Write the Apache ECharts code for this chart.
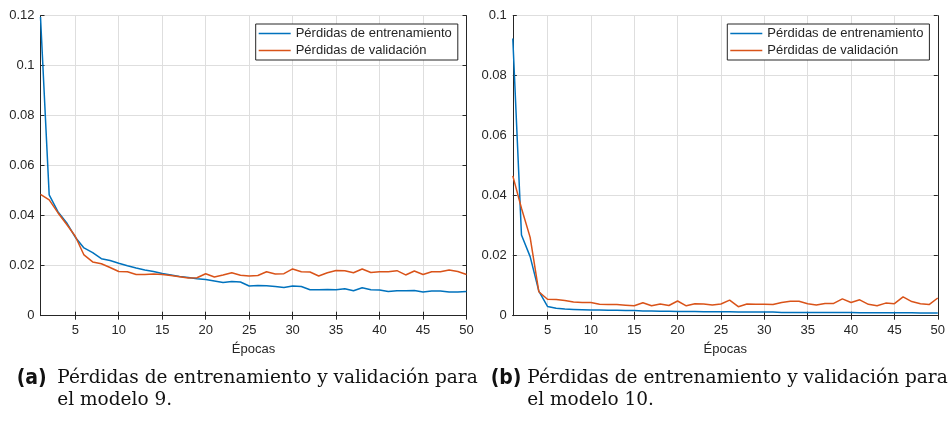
<!DOCTYPE html>
<html>
<head>
<meta charset="utf-8">
<script src="https://cdn.jsdelivr.net/npm/echarts@6/dist/echarts.min.js"></script>
<style>
html,body{margin:0;padding:0;background:#fff;}
#chart{width:948px;height:422px;}
</style>
</head>
<body>
<div id="chart"></div>
<script>
const epochs = [1,2,3,4,5,6,7,8,9,10,11,12,13,14,15,16,17,18,19,20,21,22,23,24,25,26,27,28,29,30,31,32,33,34,35,36,37,38,39,40,41,42,43,44,45,46,47,48,49,50];
const seriesNames = ['Pérdidas de entrenamiento', 'Pérdidas de validación'];
const xTickStep = 5;
const yTicksA = {min: 0, max: 0.12, step: 0.02};
const yTicksB = {min: 0, max: 0.1, step: 0.02};
const xAxisTitle = 'Épocas';

const trainA = [0.1195,0.0483,0.0416,0.0372,0.0314,0.0271,0.0252,0.0228,0.0221,0.0210,0.0200,0.0191,0.0183,0.0177,0.0169,0.0163,0.0157,0.0153,0.0148,0.0145,0.0139,0.0133,0.0137,0.0135,0.0119,0.0121,0.0120,0.0117,0.0113,0.0119,0.0117,0.0104,0.0104,0.0105,0.0104,0.0108,0.0100,0.0112,0.0104,0.0103,0.0097,0.0100,0.0100,0.0101,0.0095,0.0099,0.0099,0.0095,0.0095,0.0097];
const valA = [0.0485,0.0463,0.0412,0.0366,0.0318,0.0243,0.0215,0.0208,0.0193,0.0177,0.0176,0.0165,0.0165,0.0167,0.0165,0.0161,0.0156,0.0151,0.0152,0.0168,0.0155,0.0163,0.0172,0.0162,0.0159,0.0161,0.0176,0.0167,0.0168,0.0187,0.0176,0.0175,0.0159,0.0172,0.0181,0.0180,0.0172,0.0187,0.0173,0.0176,0.0176,0.0180,0.0163,0.0179,0.0165,0.0176,0.0176,0.0183,0.0177,0.0165];
const trainB = [0.0924,0.0269,0.0197,0.0082,0.0031,0.0025,0.0022,0.0021,0.0020,0.0019,0.0019,0.0018,0.0018,0.0017,0.0017,0.0016,0.0016,0.0015,0.0015,0.0014,0.0014,0.0014,0.0013,0.0013,0.0013,0.0013,0.0012,0.0012,0.0012,0.0012,0.0012,0.0011,0.0011,0.0011,0.0011,0.0011,0.0011,0.0011,0.0011,0.0011,0.0010,0.0010,0.0010,0.0010,0.0010,0.0010,0.0010,0.0009,0.0009,0.0009];
const valB = [0.0466,0.0358,0.0261,0.0080,0.0055,0.0054,0.0051,0.0046,0.0044,0.0044,0.0038,0.0037,0.0037,0.0035,0.0033,0.0043,0.0033,0.0039,0.0034,0.0049,0.0033,0.0040,0.0039,0.0036,0.0039,0.0052,0.0030,0.0039,0.0038,0.0038,0.0037,0.0044,0.0048,0.0048,0.0040,0.0036,0.0041,0.0041,0.0056,0.0044,0.0053,0.0038,0.0033,0.0042,0.0040,0.0063,0.0047,0.0040,0.0037,0.0059];

const captionA = ['(a)', 'Pérdidas de entrenamiento y validación para', 'el modelo 9.'];
const captionB = ['(b)', 'Pérdidas de entrenamiento y validación para', 'el modelo 10.'];

const AX = '#262626';
const GRIDC = '#dedede';
const SANS = '"Liberation Sans", Arial, Helvetica, sans-serif';
const BLUE = '#0072BD';
const ORANGE = '#D95319';

const chart = echarts.init(document.getElementById('chart'), null, {renderer: 'canvas'});

const every5 = (i, v) => Number(v) % xTickStep === 0;

function xAxes(gi) {
  return [
    {
      type: 'category', gridIndex: gi, data: epochs, boundaryGap: false, position: 'bottom',
      axisLine: {show: true, lineStyle: {color: AX, width: 1}},
      axisTick: {show: true, inside: true, length: 4, interval: every5, lineStyle: {color: AX}},
      axisLabel: {show: true, interval: every5, margin: 8, color: AX, fontSize: 13, fontFamily: SANS},
      splitLine: {show: true, interval: every5, lineStyle: {color: GRIDC, width: 1}},
      name: xAxisTitle, nameLocation: 'middle', nameGap: 27,
      nameTextStyle: {color: AX, fontSize: 13, fontFamily: SANS}
    },
    {
      type: 'category', gridIndex: gi, data: epochs, boundaryGap: false, position: 'top',
      axisLine: {show: true, lineStyle: {color: AX, width: 1}},
      axisTick: {show: true, inside: true, length: 4, interval: every5, lineStyle: {color: AX}},
      axisLabel: {show: false},
      splitLine: {show: false}
    }
  ];
}
function yAxes(gi, t) {
  return [
    {
      type: 'value', gridIndex: gi, min: t.min, max: t.max, interval: t.step, position: 'left',
      axisLine: {show: true, lineStyle: {color: AX, width: 1}},
      axisTick: {show: true, inside: true, length: 4, lineStyle: {color: AX}},
      axisLabel: {show: true, margin: 6, color: AX, fontSize: 13, fontFamily: SANS},
      splitLine: {show: true, lineStyle: {color: GRIDC, width: 1}}
    },
    {
      type: 'value', gridIndex: gi, min: t.min, max: t.max, interval: t.step, position: 'right',
      axisLine: {show: true, lineStyle: {color: AX, width: 1}},
      axisTick: {show: true, inside: true, length: 4, lineStyle: {color: AX}},
      axisLabel: {show: false},
      splitLine: {show: false}
    }
  ];
}
function line(name, data, color, xi, yi) {
  return {
    type: 'line', name: name, data: data, xAxisIndex: xi, yAxisIndex: yi,
    symbol: 'none', showSymbol: false, animation: false,
    lineStyle: {color: color, width: 1.5}, itemStyle: {color: color}
  };
}
function legend(left) {
  return {
    orient: 'vertical', left: left, top: 24, padding: [3, 6, 3, 3],
    itemWidth: 32, itemHeight: 14, itemGap: 4,
    icon: 'path://M0,0 L64,0 L64,3 L0,3 Z', symbolKeepAspect: true,
    borderColor: AX, borderWidth: 1, backgroundColor: '#fff',
    data: seriesNames, selectedMode: false,
    textStyle: {color: AX, fontSize: 13, fontFamily: SANS}
  };
}
function caption(c, xLabel, xText) {
  return [
    {type: 'text', left: xLabel, top: 368,
     style: {text: c[0], fill: '#111', font: 'bold 21px "Liberation Sans Narrow", "DejaVu Sans Condensed", "Liberation Sans", sans-serif'}},
    {type: 'text', left: xText, top: 369,
     style: {text: c[1], fill: '#111', font: '18.5px "DejaVu Serif", "Liberation Serif", serif'}},
    {type: 'text', left: xText, top: 391,
     style: {text: c[2], fill: '#111', font: '18.5px "DejaVu Serif", "Liberation Serif", serif'}}
  ];
}

const option = {
  animation: false,
  backgroundColor: '#fff',
  grid: [
    {left: 40.5, top: 15.7, width: 426, height: 300, containLabel: false},
    {left: 512.8, top: 15.7, width: 426, height: 300, containLabel: false}
  ],
  xAxis: [...xAxes(0), ...xAxes(1)],
  yAxis: [...yAxes(0, yTicksA), ...yAxes(1, yTicksB)],
  legend: [legend(255.7), legend(727.3)],
  series: [
    line(seriesNames[0], trainA, BLUE, 0, 0),
    line(seriesNames[1], valA, ORANGE, 0, 0),
    line(seriesNames[0], trainB, BLUE, 2, 2),
    line(seriesNames[1], valB, ORANGE, 2, 2)
  ],
  graphic: [...caption(captionA, 16.7, 57.3), ...caption(captionB, 490.7, 527.3)]
};
chart.setOption(option);
</script>
</body>
</html>
